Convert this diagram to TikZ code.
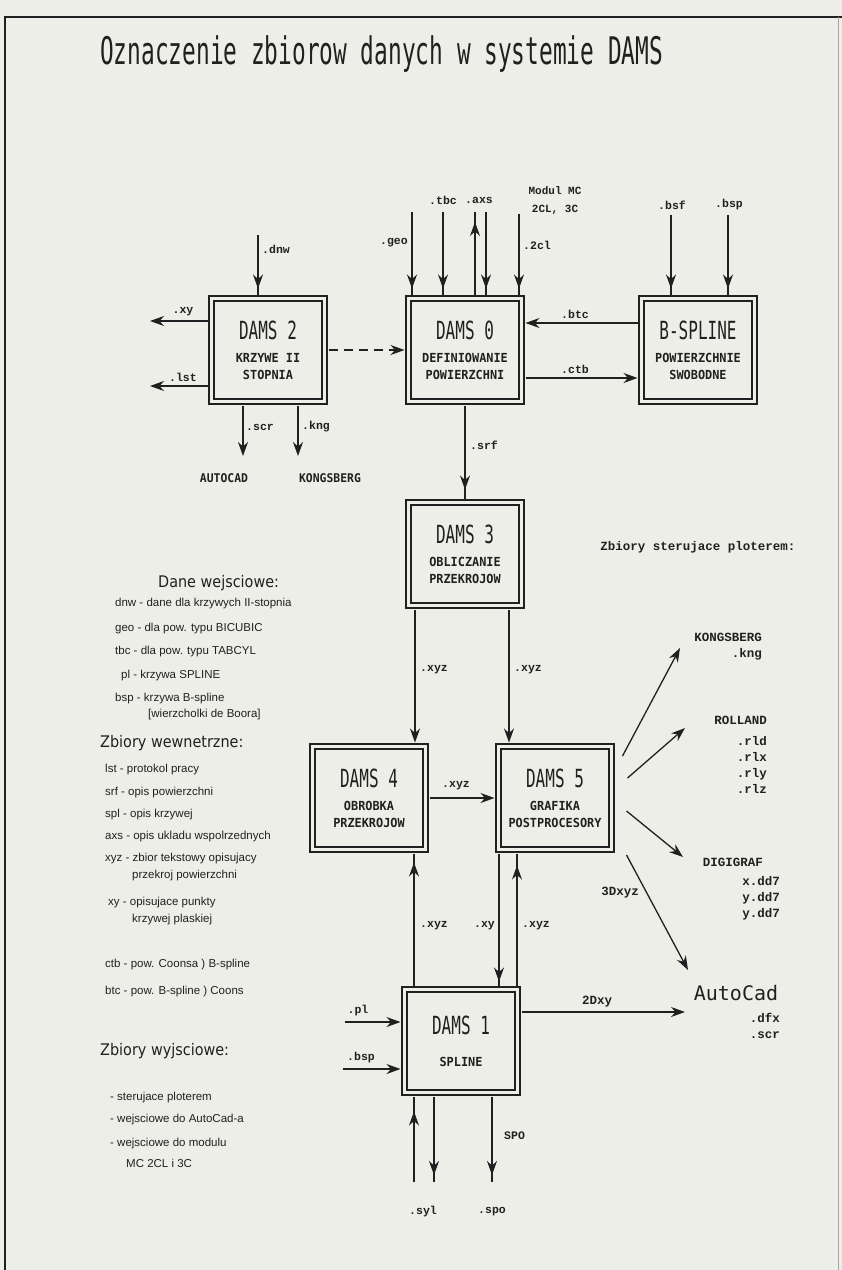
\documentclass[tikz,border=0pt]{standalone}
\usepackage{fontspec}
\setmainfont{Liberation Sans}
\newfontfamily\titlefont[FakeStretch=0.6]{DejaVu Sans Mono}
\newfontfamily\boxfont[FakeStretch=0.64]{DejaVu Sans Mono}
\newfontfamily\subfont[FakeStretch=0.95]{DejaVu Sans Mono}
\newfontfamily\labfont{Liberation Mono}
\newfontfamily\headfont[FakeStretch=0.9]{DejaVu Sans}
\newfontfamily\bigfont{DejaVu Sans Mono}
\usetikzlibrary{arrows.meta,decorations.markings,calc}

\definecolor{paper}{RGB}{238,238,233}
\definecolor{ink}{RGB}{32,32,32}

\newcommand\boxttl{\boxfont\fontsize{25}{26}\selectfont}
\newcommand\boxsub{\subfont\bfseries\fontsize{12.5}{17}\selectfont}

\tikzset{
  dams/.style={draw=ink, line width=2.2pt, double=paper, double distance=3.5pt,
    fill=paper, minimum width=113pt, minimum height=103pt, inner sep=0pt,
    outer sep=4pt, align=center, text=ink},
  arr/.style={draw=ink, line width=1.3pt, -{Stealth[length=14pt,width=10pt]}},
  arrin/.style={draw=ink, line width=1.3pt, postaction={decorate},
    decoration={markings, mark=at position -#1 with {\arrow{Stealth[length=14pt,width=10pt]}}}},
  arrin/.default=6pt,
  lab/.style={font=\labfont\bfseries\fontsize{11.5}{12}\selectfont, text=ink, inner sep=1pt},
  rt/.style={font=\labfont\bfseries\fontsize{12.5}{16}\selectfont, text=ink, inner sep=0pt},
  small/.style={font=\subfont\bfseries\fontsize{12}{13}\selectfont, text=ink, inner sep=0pt},
  head/.style={font=\headfont\fontsize{16}{17}\selectfont, text=ink, inner sep=0pt, anchor=west},
  leg/.style={font=\fontsize{11.5}{12}\selectfont, text=ink, inner sep=0pt, anchor=west}
}

\begin{document}
\begin{tikzpicture}[x=1pt,y=-1pt]
  \fill[paper] (0,0) rectangle (842,1270);
  \useasboundingbox (0,0) rectangle (842,1270);
  % frame
  \draw[ink, line width=1.4pt] (5,1270) -- (5,17) -- (842,17);
  \draw[ink!40, line width=0.6pt] (838,17) -- (838,1270);

  % title
  \node[anchor=base west, font=\titlefont\fontsize{38}{40}\selectfont, text=ink, inner sep=0pt]
    (title) at (100,64) {Oznaczenie zbiorow danych w systemie DAMS};

  % modules
  \node[dams] (dams2) at (268,350) {\boxttl DAMS 2\\[11pt]\boxsub KRZYWE II\\[5pt]\boxsub STOPNIA};
  \node[dams] (dams0) at (465,350) {\boxttl DAMS 0\\[11pt]\boxsub DEFINIOWANIE\\[5pt]\boxsub POWIERZCHNI};
  \node[dams] (bspl) at (698,350) {\boxttl B-SPLINE\\[11pt]\boxsub POWIERZCHNIE\\[5pt]\boxsub SWOBODNE};
  \node[dams] (dams3) at (465,554) {\boxttl DAMS 3\\[11pt]\boxsub OBLICZANIE\\[5pt]\boxsub PRZEKROJOW};
  \node[dams] (dams4) at (369,798) {\boxttl DAMS 4\\[11pt]\boxsub OBROBKA\\[5pt]\boxsub PRZEKROJOW};
  \node[dams] (dams5) at (555,798) {\boxttl DAMS 5\\[11pt]\boxsub GRAFIKA\\[5pt]\boxsub POSTPROCESORY};
  \node[dams] (dams1) at (461,1041) {\boxttl DAMS 1\\[20pt]\boxsub SPLINE};

  % DAMS 2
  \coordinate (dnw) at (258,235);
  \draw[arrin] (dnw) -- (dnw |- dams2.north);
  \node[lab, anchor=west] (l-dnw) at (261,249) {.dnw};
  \coordinate (xy) at (150,321);
  \draw[arr] (xy -| dams2.west) -- (xy);
  \node[lab] (l-xy) at (183,312) {.xy};
  \coordinate (lst) at (150,386);
  \draw[arr] (lst -| dams2.west) -- (lst);
  \node[lab] (l-lst) at (183,377) {.lst};
  \coordinate (scr) at (243,456);
  \draw[arr] (scr |- dams2.south) -- (scr);
  \node[lab, anchor=west] (l-scr) at (245,427) {.scr};
  \node[small] (acad2) at (224,478) {AUTOCAD};
  \coordinate (kng) at (298,456);
  \draw[arr] (kng |- dams2.south) -- (kng);
  \node[lab, anchor=west] (l-kng) at (301,427) {.kng};
  \node[small] (kong2) at (330,478) {KONGSBERG};
  \draw[arr, dash pattern=on 9pt off 6pt] (dams2.east) -- (dams0.west);

  % DAMS 0
  \coordinate (geo) at (412,212);
  \draw[arrin] (geo) -- (geo |- dams0.north);
  \node[lab, anchor=east] (l-geo) at (409,243) {.geo};
  \coordinate (tbc) at (443,212);
  \draw[arrin] (tbc) -- (tbc |- dams0.north);
  \node[lab] (l-tbc) at (443,200) {.tbc};
  \coordinate (axsu) at (475,212);
  \draw[arrin=10pt] (axsu |- dams0.north) -- (axsu);
  \coordinate (axsd) at (486,212);
  \draw[arrin] (axsd) -- (axsd |- dams0.north);
  \node[lab] (l-axs) at (479,200) {.axs};
  \coordinate (mc2) at (519,214);
  \draw[arrin] (mc2) -- (mc2 |- dams0.north);
  \node[lab, anchor=west] (l-2cl) at (522,245) {.2cl};
  \node[lab, align=center, font=\labfont\bfseries\fontsize{11}{18}\selectfont] (mc) at (555,200) {Modul MC\\2CL, 3C};
  \draw[arr] ([yshift=27pt]bspl.west) -- ([yshift=27pt]bspl.west -| dams0.east);
  \node[lab] (l-btc) at (575,314) {.btc};
  \draw[arr] ([yshift=-28pt]dams0.east) -- ([yshift=-28pt]dams0.east -| bspl.west);
  \node[lab] (l-ctb) at (575,369) {.ctb};

  % B-SPLINE
  \coordinate (bsf) at (671,215);
  \draw[arrin] (bsf) -- (bsf |- bspl.north);
  \node[lab] (l-bsf) at (672,205) {.bsf};
  \coordinate (bsp) at (728,215);
  \draw[arrin] (bsp) -- (bsp |- bspl.north);
  \node[lab] (l-bsp) at (729,205) {.bsp};

  % DAMS 3, 4, 5
  \draw[arrin=9pt] (dams0.south) -- (dams3.north);
  \node[lab, anchor=west] (l-srf) at (469,445) {.srf};
  \draw[arr] ([xshift=-50pt]dams3.south) -- ([xshift=-50pt]dams3.south |- dams4.north);
  \node[lab, anchor=west] (l-xyz1) at (419,670) {.xyz};
  \draw[arr] ([xshift=44pt]dams3.south) -- ([xshift=44pt]dams3.south |- dams5.north);
  \node[lab, anchor=west] (l-xyz2) at (513,670) {.xyz};
  \draw[arr] (dams4.east) -- (dams5.west);
  \node[lab] (l-xyz3) at (456,786) {.xyz};
  \draw[arrin=9pt] ([xshift=-47pt]dams1.north) -- ([xshift=-47pt]dams1.north |- dams4.south);
  \node[lab, anchor=west] (l-xyz4) at (419,926) {.xyz};
  \draw[arrin=4pt] ([xshift=-56pt]dams5.south) -- ([xshift=-56pt]dams5.south |- dams1.north);
  \node[lab, anchor=east] (l-xy2) at (496,926) {.xy};
  \draw[arrin=12pt] ([xshift=56pt]dams1.north) -- ([xshift=56pt]dams1.north |- dams5.south);
  \node[lab, anchor=west] (l-xyz5) at (521,926) {.xyz};

  % DAMS 5 outputs
  \coordinate (tokng) at (680,648);
  \coordinate (torl) at (685,728);
  \coordinate (todg) at (683,857);
  \coordinate (toac) at (688,970);
  \draw[arr] ($(dams5.east)+(7,-42)$) -- (tokng);
  \draw[arr] ($(dams5.east)+(12,-20)$) -- (torl);
  \draw[arr] ($(dams5.east)+(11,13)$) -- (todg);
  \draw[arr] ($(dams5.east)+(11,57)$) -- (toac);
  \node[rt] (l-3d) at (620,893) {3Dxyz};
  \node[rt] (plot) at (698,547) {Zbiory sterujace ploterem:};
  \node[rt, align=right, anchor=east] (kong) at (762,647) {KONGSBERG\\.kng};
  \node[rt, align=right, anchor=north east] (rolland) at (767,716) {ROLLAND\\[5pt].rld\\.rlx\\.rly\\.rlz};
  \node[rt, anchor=east] (digi) at (763,862) {DIGIGRAF};
  \node[rt, align=right, anchor=north east] (dd7) at (780,876) {x.dd7\\y.dd7\\y.dd7};

  % DAMS 1
  \coordinate (pl) at (345,1022);
  \draw[arr] (pl) -- (pl -| dams1.west);
  \node[lab] (l-pl) at (358,1011) {.pl};
  \coordinate (bsp1) at (343,1069);
  \draw[arr] (bsp1) -- (bsp1 -| dams1.west);
  \node[lab] (l-bsp1) at (361,1058) {.bsp};
  \coordinate (sylu) at (414,1182);
  \draw[arrin=15pt] (sylu) -- (sylu |- dams1.south);
  \coordinate (syld) at (434,1182);
  \draw[arrin=7pt] (syld |- dams1.south) -- (syld);
  \coordinate (spo) at (492,1182);
  \draw[arrin=7pt] (spo |- dams1.south) -- (spo);
  \node[lab, anchor=west] (l-spo1) at (503,1136) {SPO};
  \node[lab] (l-syl) at (423,1212) {.syl};
  \node[lab] (l-spo) at (492,1212) {.spo};
  \coordinate (ac2d) at (685,1012);
  \draw[arr] ([yshift=29pt]dams1.east) -- (ac2d);
  \node[rt] (l-2d) at (597,1002) {2Dxy};
  \node[font=\bigfont\fontsize{20}{22}\selectfont, text=ink, inner sep=0pt] (acad) at (736,993) {AutoCad};
  \node[rt, align=right, anchor=north east] (acext) at (780,1013) {.dfx\\.scr};

  % legend
  \node[head] (h-in) at (158,583) {Dane wejsciowe:};
  \node[leg] (in1) at (115,604) {dnw - dane dla krzywych II-stopnia};
  \node[leg] (in2) at (115,629) {geo - dla pow. typu BICUBIC};
  \node[leg] (in3) at (115,652) {tbc - dla pow. typu TABCYL};
  \node[leg] (in4) at (121,676) {pl - krzywa SPLINE};
  \node[leg] (in5) at (115,699) {bsp - krzywa B-spline};
  \node[leg] (in6) at (148,715) {[wierzcholki de Boora]};
  \node[head] (h-wew) at (100,743) {Zbiory wewnetrzne:};
  \node[leg] (w1) at (105,770) {lst - protokol pracy};
  \node[leg] (w2) at (105,793) {srf - opis powierzchni};
  \node[leg] (w3) at (105,815) {spl - opis krzywej};
  \node[leg] (w4) at (105,837) {axs - opis ukladu wspolrzednych};
  \node[leg] (w5) at (105,859) {xyz - zbior tekstowy opisujacy};
  \node[leg] (w6) at (132,876) {przekroj powierzchni};
  \node[leg] (w7) at (108,903) {xy - opisujace punkty};
  \node[leg] (w8) at (132,920) {krzywej plaskiej};
  \node[leg] (w9) at (105,965) {ctb - pow. Coonsa ) B-spline};
  \node[leg] (w10) at (105,992) {btc - pow. B-spline ) Coons};
  \node[head] (h-out) at (100,1051) {Zbiory wyjsciowe:};
  \node[leg] (o1) at (110,1098) {- sterujace ploterem};
  \node[leg] (o2) at (110,1120) {- wejsciowe do AutoCad-a};
  \node[leg] (o3) at (110,1144) {- wejsciowe do modulu};
  \node[leg] (o4) at (126,1163) {MC 2CL i 3C};
\end{tikzpicture}
\end{document}
